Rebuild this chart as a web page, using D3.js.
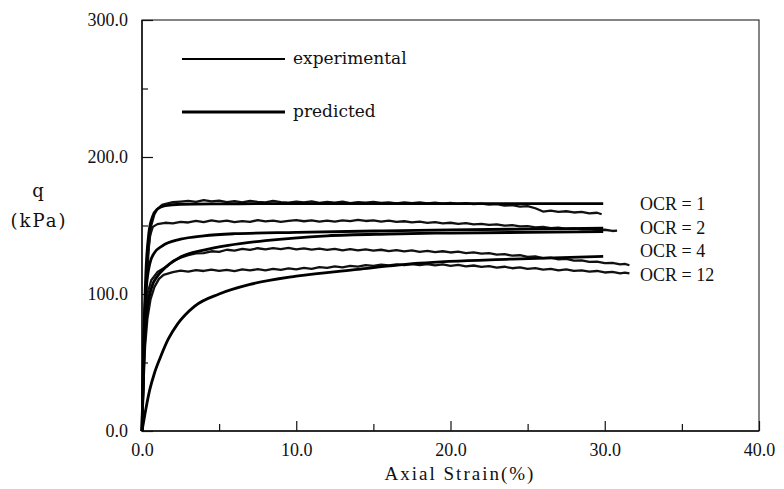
<!DOCTYPE html>
<html>
<head>
<meta charset="utf-8">
<script src="https://cdn.jsdelivr.net/npm/d3@7"></script>
<style>
	body { margin: 0; background: #fff; }
	svg text { fill: #111; }
</style>
</head>
<body>
<svg id="chart" width="784" height="489"></svg>
<script>
// [strain %, q kPa]
const expOCR1 = [[0,0],[0.1,40],[0.2,80],[0.3,110],[0.45,135],[0.6,150],[0.8,158],[1.0,162],[1.3,165],[1.6,166],[2.0,167],[2.5,167.5],
	[3.0,168],[3.5,167.2],[4.0,168.5],[4.5,167.6],[5.0,168.2],[5.5,167],[6.0,167.8],[6.5,166.9],[7.0,168],[7.5,167.3],[8.0,166.8],[8.5,167.9],
	[9.0,167.1],[9.5,166.6],[10.0,167.5],[10.5,166.8],[11.0,167.6],[11.5,166.5],[12.0,167.2],[12.5,166.7],[13.0,167.4],[13.5,166.4],[14.0,167],
	[14.5,166.6],[15.0,167.3],[15.5,166.5],[16.0,166.9],[16.5,166.2],[17.0,166.8],[17.5,166.3],[18.0,166.9],[18.5,166.1],[19.0,166.6],[19.5,166],
	[20.0,166.5],[20.5,165.8],[21.0,166.3],[21.5,165.6],[22.0,166],[22.5,165.2],[23.0,165.6],[23.5,164.5],[24.0,164.9],[24.5,163.8],[25.0,164.2],
	[25.5,162.6],[26.0,160.2],[26.5,160.8],[27.0,159.9],[27.5,160.4],[28.0,159.5],[28.5,159.9],[29.0,158.8],[29.5,159.3],[29.8,158.2]]

const expOCR2 = [[0,0],[0.1,50],[0.2,95],[0.35,125],[0.5,142],[0.7,149],[1.0,151],[1.5,152],[2.0,151.5],[2.5,152.6],
	[3.0,152.2],[3.5,153.4],[4.0,152.5],[4.5,153.8],[5.0,152.9],[5.5,153.5],[6.0,152.4],[6.5,153.2],[7.0,152.6],[7.5,153.9],[8.0,153],[8.5,153.6],
	[9.0,152.7],[9.5,153.3],[10.0,154],[10.5,153.1],[11.0,153.7],[11.5,152.8],[12.0,153.5],[12.5,152.9],[13.0,153.8],[13.5,153.2],[14.0,154.1],
	[14.5,153.3],[15.0,153.7],[15.5,152.9],[16.0,153.5],[16.5,152.6],[17.0,153.1],[17.5,152.3],[18.0,152.8],[18.5,151.9],[19.0,152.4],[19.5,151.6],
	[20.0,152],[20.5,151.2],[21.0,151.7],[21.5,150.8],[22.0,151.2],[22.5,150.4],[23.0,150.8],[23.5,149.9],[24.0,150.2],[24.5,149.3],[25.0,149.6],
	[25.5,148.7],[26.0,149],[26.5,148.1],[27.0,148.5],[27.5,147.6],[28.0,147.9],[28.5,147.1],[29.0,147.4],[29.5,146.6],[30.0,146.9],[30.5,146],[30.8,146.3]]

const expOCR4 = [[0,0],[0.1,45],[0.2,80],[0.35,100],[0.6,110],[1.0,116],[1.6,120],[2.0,124],[2.5,126.5],
	[3.0,128.3],[3.5,129.6],[4.0,129.9],[4.5,131.2],[5.0,130.8],[5.5,132.3],[6.0,131.7],[6.5,133],[7.0,132.2],[7.5,133.4],[8.0,132.6],[8.5,133.5],
	[9.0,132.8],[9.5,133.6],[10.0,132.5],[10.5,133.3],[11.0,132.4],[11.5,133.1],[12.0,132.2],[12.5,132.9],[13.0,131.9],[13.5,132.7],[14.0,131.8],
	[14.5,132.5],[15.0,131.6],[15.5,132.3],[16.0,131.3],[16.5,132],[17.0,131.1],[17.5,131.8],[18.0,130.8],[18.5,131.5],[19.0,130.6],[19.5,131.2],
	[20.0,130.3],[20.5,130.9],[21.0,129.9],[21.5,130.4],[22.0,129.4],[22.5,129.8],[23.0,128.8],[23.5,129.1],[24.0,128],[24.5,128.3],[25.0,127.1],
	[25.5,127.4],[26.0,126.2],[26.5,126.5],[27.0,125.3],[27.5,125.6],[28.0,124.4],[28.5,124.6],[29.0,123.5],[29.5,123.7],[30.0,122.6],[30.5,122.7],
	[31.0,121.6],[31.3,122],[31.6,121]]

const expOCR12 = [[0,0],[0.1,35],[0.2,62],[0.35,82],[0.55,96],[0.8,105],[1.1,111],[1.4,114],[2.0,116],[2.5,117],
	[3.0,116.4],[3.5,117.5],[4.0,116.8],[4.5,117.8],[5.0,116.9],[5.5,117.6],[6.0,116.7],[6.5,117.9],[7.0,117.2],[7.5,118.1],[8.0,117.3],[8.5,118.4],
	[9.0,117.6],[9.5,118.7],[10.0,118],[10.5,119.1],[11.0,118.4],[11.5,119.6],[12.0,119],[12.5,120.1],[13.0,119.5],[13.5,120.6],[14.0,120],
	[14.5,121.1],[15.0,120.5],[15.5,121.5],[16.0,120.8],[16.5,121.7],[17.0,121],[17.5,121.9],[18.0,121.1],[18.5,121.8],[19.0,120.9],[19.5,121.6],
	[20.0,120.6],[20.5,121.2],[21.0,120.2],[21.5,120.8],[22.0,119.8],[22.5,120.3],[23.0,119.3],[23.5,119.9],[24.0,118.8],[24.5,119.4],[25.0,118.4],
	[25.5,118.9],[26.0,117.8],[26.5,118.4],[27.0,117.3],[27.5,117.9],[28.0,116.9],[28.5,117.3],[29.0,116.3],[29.5,116.8],[30.0,115.7],[30.5,116.2],
	[31.0,115.1],[31.3,115.6],[31.6,115]]

const predOCR1 = [[0,0],[0.1,60],[0.25,115],[0.45,145],[0.7,157],[1.0,162],[1.5,164.5],[2.5,165.5],[5,165.8],[10,166],[20,166],[29.9,166]]
const predOCR2 = [[0,0],[0.1,55],[0.25,100],[0.5,122],[0.8,130],[1.3,135],[2.5,140],[4,142.5],[6,144],[10,145],[15,146],[20,146.8],[25,147.4],[29.9,148]]
const predOCR4 = [[0,0],[0.1,45],[0.3,85],[0.6,104],[1.0,113],[1.3,117],[2.5,127],[4,132],[5.6,135.5],[8,139],[12,142.5],[16,143.8],[20,144.5],[25,145],[29.9,145.5]]
const predOCR12 = [[0,0],[0.2,13],[0.5,30],[0.8,42],[1.2,54],[1.7,67],[2.3,78],[3.4,91],[5,100],[7,107],[10,113],[14,118],[18,122.5],[24,125.5],[29.9,127.5]]

const experimental = [expOCR1, expOCR2, expOCR4, expOCR12]
const predicted = [predOCR1, predOCR2, predOCR4, predOCR12]

const ocrLabels = ["OCR = 1", "OCR = 2", "OCR = 4", "OCR = 12"]
const xTicks = [0, 5, 10, 15, 20, 25, 30, 35, 40]
const yTicks = [0, 50, 100, 150, 200, 250, 300]
const legendItems = ["experimental", "predicted"]

const svg = d3.select("#chart")
const plotL = 142, plotR = 759, plotT = 20, plotB = 431

const x = d3.scaleLinear().domain([0, 40]).range([plotL, plotR])
const y = d3.scaleLinear().domain([0, 300]).range([plotB, plotT])

const serif = "'Liberation Serif', 'DejaVu Serif', serif"
const slab = "'DejaVu Serif', serif"

// frame: top/right drawn lighter like the scan
svg.append("rect")
	.attr("x", plotL).attr("y", plotT)
	.attr("width", plotR - plotL).attr("height", plotB - plotT)
	.attr("fill", "none").attr("stroke", "#222").attr("stroke-width", 1.1)
svg.append("path")
	.attr("d", `M${plotL},${plotT}V${plotB}H${plotR}`)
	.attr("fill", "none").attr("stroke", "#111").attr("stroke-width", 1.5)

// x axis, ticks pointing inward
const xAxis = svg.append("g")
	.attr("transform", `translate(0,${plotB})`)
	.call(d3.axisBottom(x).tickValues(xTicks).tickSize(0).tickPadding(12)
		.tickFormat(d => d % 10 === 0 ? d3.format(".1f")(d) : ""))
xAxis.select(".domain").remove()
xAxis.selectAll(".tick line")
	.attr("y2", d => d % 10 === 0 ? -10 : -7)
	.attr("stroke", "#111").attr("stroke-width", 1.2)
xAxis.selectAll("text")
	.attr("font-family", serif).attr("font-size", 18).attr("fill", "#111")

const yAxis = svg.append("g")
	.attr("transform", `translate(${plotL},0)`)
	.call(d3.axisLeft(y).tickValues(yTicks).tickSize(0).tickPadding(14)
		.tickFormat(d => d % 100 === 0 ? d3.format(".1f")(d) : ""))
yAxis.select(".domain").remove()
yAxis.selectAll(".tick line")
	.attr("x2", d => d % 100 === 0 ? 11 : 6)
	.attr("stroke", "#111").attr("stroke-width", 1.2)
yAxis.selectAll("text")
	.attr("font-family", serif).attr("font-size", 18).attr("fill", "#111")

// axis titles
svg.append("text")
	.attr("x", 460).attr("y", 480)
	.attr("text-anchor", "middle")
	.attr("font-family", serif).attr("font-size", 19).attr("letter-spacing", 2)
	.text("Axial Strain(%)")
svg.append("text")
	.attr("x", 38).attr("y", 197)
	.attr("text-anchor", "middle")
	.attr("font-family", slab).attr("font-size", 18)
	.text("q")
svg.append("text")
	.attr("x", 39).attr("y", 227)
	.attr("text-anchor", "middle")
	.attr("font-family", slab).attr("font-size", 18).attr("letter-spacing", 2)
	.text("(kPa)")

// curves
const line = d3.line().x(d => x(d[0])).y(d => y(d[1]))
const smooth = d3.line().x(d => x(d[0])).y(d => y(d[1])).curve(d3.curveMonotoneX)

svg.append("g").selectAll("path")
	.data(experimental)
	.join("path")
		.attr("d", line)
		.attr("fill", "none").attr("stroke", "#111")
		.attr("stroke-width", 2.3).attr("stroke-linejoin", "round")

svg.append("g").selectAll("path")
	.data(predicted)
	.join("path")
		.attr("d", smooth)
		.attr("fill", "none").attr("stroke", "#000")
		.attr("stroke-width", 2.8).attr("stroke-linejoin", "round")

// OCR labels, stacked to the right of the curve ends
svg.append("g").selectAll("text")
	.data(ocrLabels)
	.join("text")
		.attr("x", 640)
		.attr("y", (d, i) => 210 + i * 23.5)
		.attr("font-family", serif).attr("font-size", 18)
		.text(d => d)

// legend
const legend = svg.append("g").selectAll("g")
	.data(legendItems)
	.join("g")
		.attr("transform", (d, i) => `translate(182,${59 + i * 53})`)
legend.append("line")
	.attr("x1", 0).attr("x2", 103)
	.attr("stroke", "#000")
	.attr("stroke-width", (d, i) => i === 0 ? 2 : 3.2)
legend.append("text")
	.attr("x", 111).attr("y", 5)
	.attr("font-family", slab).attr("font-size", 17)
	.text(d => d)
</script>
</body>
</html>
